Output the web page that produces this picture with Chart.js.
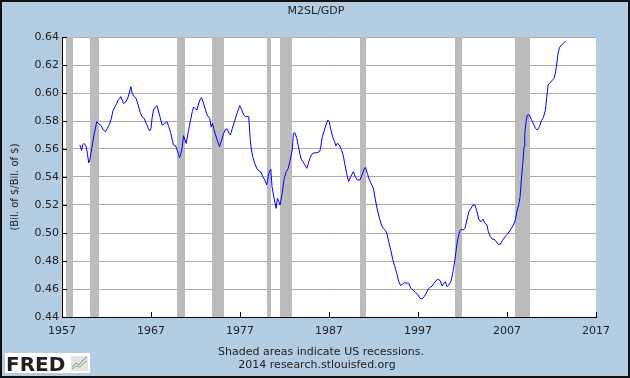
<!DOCTYPE html>
<html lang="en">
<head>
    <meta charset="UTF-8">
    <title>M2SL/GDP</title>
    <script src="https://cdn.jsdelivr.net/npm/chart.js@4.4.1/dist/chart.umd.min.js"></script>
    <style>
        html, body {
            margin: 0;
            padding: 0;
            background: #B3CDE3;
        }
        canvas {
            display: block;
        }
    </style>
</head>
<body>

<canvas id="chart" width="630" height="378"></canvas>

<script>

// M2 money stock / GDP (decimal year, ratio)
var years = [
    1959.0, 1959.2, 1959.33, 1959.48, 1959.7, 1959.85, 1960.0, 1960.15, 1960.38, 1960.6,
    1960.9, 1961.13, 1961.36, 1961.65, 1961.88, 1962.1, 1962.33, 1962.55, 1962.71, 1962.93,
    1963.16, 1963.3, 1963.45, 1963.6, 1963.76, 1963.9, 1964.13, 1964.35, 1964.5, 1964.74,
    1964.88, 1965.1, 1965.33, 1965.56, 1965.78, 1966.0, 1966.23, 1966.46, 1966.7, 1966.85,
    1967.0, 1967.12, 1967.28, 1967.5, 1967.66, 1967.8, 1967.96, 1968.1, 1968.26, 1968.56,
    1968.79, 1969.0, 1969.24, 1969.39, 1969.53, 1969.76, 1969.92, 1970.06, 1970.21, 1970.37,
    1970.51, 1970.66, 1970.82, 1970.96, 1971.19, 1971.41, 1971.64, 1971.79, 1971.94, 1972.17,
    1972.3, 1972.54, 1972.68, 1972.84, 1973.07, 1973.3, 1973.59, 1973.75, 1973.9, 1974.04,
    1974.26, 1974.5, 1974.7, 1974.94, 1975.16, 1975.39, 1975.55, 1975.77, 1975.92, 1976.14,
    1976.37, 1976.67, 1976.97, 1977.2, 1977.42, 1977.6, 1977.98, 1978.17, 1978.28, 1978.43,
    1978.66, 1978.88, 1979.1, 1979.33, 1979.56, 1979.78, 1980.0, 1980.23, 1980.46, 1980.6,
    1980.83, 1981.06, 1981.2, 1981.36, 1981.5, 1981.74, 1981.97, 1982.2, 1982.42, 1982.64,
    1982.87, 1983.0, 1983.16, 1983.38, 1983.6, 1983.84, 1984.06, 1984.29, 1984.51, 1984.74,
    1984.96, 1985.19, 1985.64, 1985.94, 1986.05, 1986.25, 1986.43, 1986.65, 1986.88, 1987.03,
    1987.17, 1987.4, 1987.63, 1987.78, 1987.93, 1988.16, 1988.38, 1988.61, 1988.76, 1988.98,
    1989.2, 1989.43, 1989.73, 1989.96, 1990.18, 1990.48, 1990.7, 1990.93, 1991.09, 1991.31,
    1991.54, 1991.76, 1991.99, 1992.21, 1992.44, 1992.67, 1992.89, 1993.11, 1993.34, 1993.49,
    1993.71, 1993.94, 1994.16, 1994.39, 1994.61, 1994.84, 1995.06, 1995.29, 1995.51, 1995.81,
    1995.96, 1996.19, 1996.42, 1996.72, 1996.94, 1997.24, 1997.46, 1997.69, 1997.91, 1998.14,
    1998.36, 1998.59, 1998.81, 1999.04, 1999.26, 1999.49, 1999.71, 1999.94, 2000.08, 2000.24,
    2000.47, 2000.69, 2000.84, 2001.0, 2001.14, 2001.29, 2001.45, 2001.67, 2001.82, 2002.05,
    2002.27, 2002.5, 2002.72, 2002.95, 2003.18, 2003.4, 2003.63, 2003.85, 2004.08, 2004.3,
    2004.53, 2004.75, 2004.9, 2005.12, 2005.35, 2005.57, 2005.8, 2006.02, 2006.25, 2006.47,
    2006.78, 2007.08, 2007.37, 2007.72, 2007.94, 2008.1, 2008.32, 2008.47, 2008.61, 2008.77,
    2008.92, 2009.0, 2009.14, 2009.29, 2009.52, 2009.74, 2009.97, 2010.19, 2010.41, 2010.64,
    2010.86, 2011.09, 2011.32, 2011.47, 2011.62, 2011.84, 2012.07, 2012.29, 2012.44, 2012.6,
    2012.74, 2012.9, 2013.12, 2013.35, 2013.57
];

var ratio = [
    0.563, 0.559, 0.563, 0.564, 0.562, 0.557, 0.550, 0.553, 0.562, 0.570,
    0.5795, 0.578, 0.577, 0.5736, 0.5724, 0.5748, 0.5776, 0.582, 0.587, 0.590,
    0.5926, 0.595, 0.5957, 0.5974, 0.595, 0.5926, 0.5934, 0.5957, 0.5986, 0.6045,
    0.5998, 0.5974, 0.5962, 0.5914, 0.5862, 0.583, 0.5819, 0.5783, 0.5748, 0.5729,
    0.5748, 0.582, 0.5879, 0.590, 0.591, 0.5879, 0.5843, 0.5807, 0.5771, 0.5783,
    0.5795, 0.5759, 0.5712, 0.5664, 0.5629, 0.5624, 0.5593, 0.557, 0.5538, 0.557,
    0.5617, 0.5695, 0.5664, 0.564, 0.5724, 0.5795, 0.5867, 0.590, 0.589, 0.5879,
    0.5914, 0.5957, 0.5967, 0.5938, 0.589, 0.5843, 0.5819, 0.5759, 0.5783, 0.5748,
    0.570, 0.5652, 0.5617, 0.5664, 0.5712, 0.5743, 0.5743, 0.5712, 0.570, 0.5748,
    0.5795, 0.5855, 0.591, 0.588, 0.5843, 0.5831, 0.5831, 0.5652, 0.5593, 0.5545,
    0.5498, 0.5462, 0.5445, 0.5436, 0.5402, 0.5379, 0.5343, 0.5426, 0.5455, 0.5331,
    0.5248, 0.5176, 0.5248, 0.5224, 0.520, 0.5283, 0.539, 0.5438, 0.5462, 0.5521,
    0.5593, 0.5712, 0.5717, 0.5676, 0.5605, 0.5533, 0.551, 0.5486, 0.5462, 0.551,
    0.555, 0.557, 0.5574, 0.5581, 0.5605, 0.5688, 0.5724, 0.5771, 0.5807, 0.5795,
    0.5748, 0.5688, 0.5652, 0.5621, 0.564, 0.5629, 0.5598, 0.555, 0.5498, 0.5426,
    0.5367, 0.5402, 0.5438, 0.5402, 0.5379, 0.5379, 0.5414, 0.5455, 0.5469, 0.5426,
    0.5379, 0.535, 0.5319, 0.5236, 0.5164, 0.5105, 0.5057, 0.5033, 0.5017, 0.4998,
    0.4938, 0.4879, 0.4812, 0.476, 0.4712, 0.4652, 0.4624, 0.4636, 0.4645, 0.4641,
    0.4641, 0.4605, 0.4593, 0.4574, 0.4564, 0.4533, 0.4529, 0.4545, 0.4569, 0.4598,
    0.4612, 0.4621, 0.4641, 0.466, 0.4669, 0.466, 0.4621, 0.4645, 0.4652, 0.4617,
    0.4629, 0.4652, 0.4693, 0.4748, 0.4807, 0.4879, 0.495, 0.501, 0.5026, 0.5021,
    0.5033, 0.5093, 0.5152, 0.5176, 0.520, 0.520, 0.5152, 0.5093, 0.5081, 0.5098,
    0.5069, 0.5057, 0.501, 0.4974, 0.4955, 0.4955, 0.4938, 0.4919, 0.4919, 0.4945,
    0.4974, 0.4993, 0.5021, 0.5057, 0.5093, 0.5152, 0.520, 0.5259, 0.5379, 0.5498,
    0.5617, 0.5712, 0.5795, 0.5843, 0.5843, 0.5812, 0.5779, 0.5748, 0.5736, 0.5759,
    0.5802, 0.5826, 0.5879, 0.5974, 0.6057, 0.6074, 0.6088, 0.6105, 0.6141, 0.6212,
    0.6283, 0.6326, 0.6343, 0.6355, 0.6371
];

// US recessions (start, end) as decimal years
var recStart = [1957.5, 1960.2, 1969.88, 1973.8, 1980.0, 1981.47, 1990.48, 2001.15, 2007.9];
var recEnd   = [1958.25, 1961.17, 1970.85, 1975.22, 1980.52, 1982.88, 1991.2, 2001.9, 2009.58];

var xTicks = [1957, 1967, 1977, 1987, 1997, 2007, 2017];
var yTicks = [0.44, 0.46, 0.48, 0.50, 0.52, 0.54, 0.56, 0.58, 0.60, 0.62, 0.64];

var FONT = '"DejaVu Sans", Verdana, sans-serif';

// page background, white plot, shaded recessions, inward ticks, texts
var fredPlugin = {
    id: 'fred',
    beforeDraw: function(chart) {
        var c = chart.ctx, a = chart.chartArea;
        c.save();
        c.fillStyle = '#B3CDE3';
        c.fillRect(0, 0, chart.width, chart.height);
        c.fillStyle = '#FFFFFF';
        c.fillRect(a.left, a.top, a.right - a.left, a.bottom - a.top);
        c.restore();
    },
    beforeDatasetsDraw: function(chart) {
        var c = chart.ctx, a = chart.chartArea, x = chart.scales.x;
        c.save();
        c.fillStyle = '#BBBBBB';
        for (var i = 0; i < recStart.length; i++) {
            var x0 = Math.round(x.getPixelForValue(recStart[i]));
            var x1 = Math.round(x.getPixelForValue(recEnd[i]));
            c.fillRect(x0, a.top, x1 - x0, a.bottom - a.top);
        }
        c.restore();
    },
    afterDraw: function(chart) {
        var c = chart.ctx, a = chart.chartArea;
        var xs = chart.scales.x, ys = chart.scales.y;
        c.save();

        // inward tick marks
        c.strokeStyle = '#000000';
        c.lineWidth = 1;
        c.beginPath();
        yTicks.forEach(function(v) {
            var py = Math.round(ys.getPixelForValue(v)) + 0.5;
            c.moveTo(a.left, py);
            c.lineTo(a.left + 5, py);
        });
        xTicks.forEach(function(v) {
            var px = Math.round(xs.getPixelForValue(v)) + 0.5;
            c.moveTo(px, a.bottom);
            c.lineTo(px, a.bottom - 5);
        });
        c.stroke();

        // title
        c.fillStyle = '#222222';
        c.font = '11px ' + FONT;
        c.textAlign = 'center';
        c.textBaseline = 'middle';
        c.fillText('M2SL/GDP', 316, 11);

        // footer
        c.fillText('Shaded areas indicate US recessions.', 321, 352);
        c.fillText('2014 research.stlouisfed.org', 317, 365);

        // y axis title
        c.save();
        c.font = '10px ' + FONT;
        c.translate(15, 187);
        c.rotate(-Math.PI / 2);
        c.fillText('(Bil. of $/Bil. of $)', 0, 0);
        c.restore();

        // FRED logo
        c.fillStyle = '#FFFFFF';
        c.fillRect(5, 353, 85, 20);
        c.fillStyle = '#231F20';
        c.font = 'bold 20px ' + FONT;
        c.textAlign = 'left';
        c.textBaseline = 'alphabetic';
        c.fillText('FRED', 6, 371);
        c.fillStyle = '#E4E4E4';
        c.fillRect(71, 356, 17, 15);
        c.lineWidth = 1;
        c.strokeStyle = '#6C8EBF';
        c.beginPath();
        c.moveTo(72, 367); c.lineTo(76, 363); c.lineTo(79, 365); c.lineTo(83, 360); c.lineTo(87, 357);
        c.stroke();
        c.strokeStyle = '#8DB255';
        c.beginPath();
        c.moveTo(72, 369); c.lineTo(76, 366); c.lineTo(80, 367); c.lineTo(84, 363); c.lineTo(87, 361);
        c.stroke();

        // outer frame
        c.strokeStyle = '#111111';
        c.lineWidth = 2;
        c.strokeRect(1, 1, chart.width - 2, chart.height - 2);
        c.restore();
    }
};

var ctx = document.getElementById('chart').getContext('2d');

var chart = new Chart(ctx, {
    type: 'line',
    data: {
        datasets: [
            {
                label: 'M2SL/GDP',
                data: years.map(function(yr, i) { return { x: yr, y: ratio[i] }; }),
                borderColor: '#0000FF',
                borderWidth: 1,
                pointRadius: 0,
                tension: 0,
                fill: false,
            }
        ]
    },
    options: {
        responsive: false,
        animation: false,
        devicePixelRatio: 1,
        layout: {
            padding: { top: 37, right: 34, left: 0, bottom: 0 },
        },
        plugins: {
            legend: { display: false },
            tooltip: { enabled: false },
            title: { display: false },
        },
        scales: {
            x: {
                type: 'linear',
                min: 1957,
                max: 2017,
                afterBuildTicks: function(scale) {
                    scale.ticks = xTicks.map(function(v) { return { value: v }; });
                },
                afterFit: function(scale) { scale.height = 61; },
                grid: { drawOnChartArea: false, drawTicks: false },
                border: { color: '#000000', width: 1 },
                ticks: {
                    padding: 8,
                    maxRotation: 0,
                    autoSkip: false,
                    color: '#222222',
                    font: { family: FONT, size: 11 },
                    callback: function(v) { return String(v); },
                },
            },
            y: {
                min: 0.44,
                max: 0.64,
                afterBuildTicks: function(scale) {
                    scale.ticks = yTicks.map(function(v) { return { value: v }; });
                },
                afterFit: function(scale) { scale.width = 62; },
                grid: { color: '#AAAAAA', drawTicks: false },
                border: { color: '#000000', width: 1 },
                ticks: {
                    padding: 3,
                    autoSkip: false,
                    color: '#222222',
                    font: { family: FONT, size: 11 },
                    callback: function(v) { return v.toFixed(2); },
                },
            },
        },
    },
    plugins: [fredPlugin],
});

</script>

</body>
</html>
